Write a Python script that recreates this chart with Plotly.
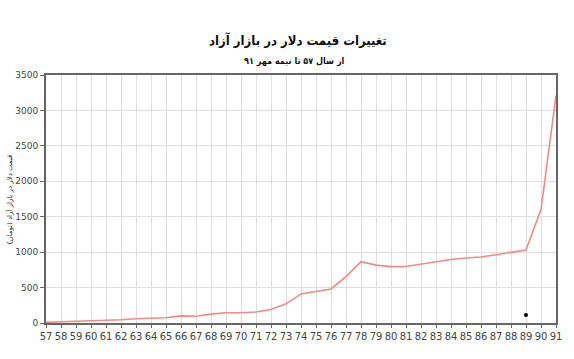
import plotly.graph_objects as go

years = list(range(57, 92))
prices = [10, 15, 20, 25, 30, 45, 60, 65, 75, 100, 95, 125, 145, 145, 155, 190, 270,
          410, 445, 480, 655, 865, 817, 795, 797, 832, 869, 897, 917, 931, 963, 992, 1030,
          1600, 3210]
dot_x = [89]
dot_y = [113]
title_text = "تغییرات قیمت دلار در بازار آزاد"
subtitle_text = "از سال ۵۷ تا نیمه مهر ۹۱"
ylabel_text = "قیمت دلار در بازار آزاد (تومان)"

fig = go.Figure()
fig.add_trace(go.Scatter(x=years, y=prices, mode="lines",
                         line=dict(color="#f08a8a", width=1.6), hoverinfo="skip"))
fig.add_trace(go.Scatter(x=dot_x, y=dot_y, mode="markers",
                         marker=dict(color="black", size=4), hoverinfo="skip"))

fig.update_layout(
    width=574, height=359,
    margin=dict(l=46, r=13, t=75, b=36),
    paper_bgcolor="white", plot_bgcolor="white",
    showlegend=False,
    annotations=[
        dict(text="<b>" + title_text + "</b>", x=300, y=40, showarrow=False,
             font=dict(family="DejaVu Sans Condensed, DejaVu Sans", size=13, color="#111")),
        dict(text="<b>" + subtitle_text + "</b>", x=297, y=62, showarrow=False,
             font=dict(family="DejaVu Sans Condensed, DejaVu Sans", size=9, color="#111")),
        dict(text=ylabel_text, x=9, y=199, textangle=-90, showarrow=False,
             font=dict(family="DejaVu Sans", size=7, color="#222")),
    ],
)
pw = 574 - 46 - 13
ph = 359 - 75 - 36
for a in fig.layout.annotations:
    px, py = a.x, a.y
    a.x = (px - 46) / pw
    a.y = 1 - (py - 75) / ph
    a.xref = "paper"
    a.yref = "paper"
    a.xanchor = "center"
    a.yanchor = "middle"

fig.update_xaxes(range=[57, 91], tickmode="array", tickvals=years,
                 ticktext=[str(y) for y in years],
                 showgrid=True, gridcolor="#dedede", gridwidth=1,
                 showline=True, linecolor="#666", linewidth=2, mirror=True,
                 ticks="outside", ticklen=3, tickcolor="#666",
                 tickfont=dict(family="DejaVu Sans", size=10, color="#444"),
                 zeroline=False)
fig.update_yaxes(range=[0, 3500], tickvals=list(range(0, 3501, 500)),
                 showgrid=True, gridcolor="#dedede", gridwidth=1,
                 showline=True, linecolor="#666", linewidth=2, mirror=True,
                 ticks="outside", ticklen=4, tickcolor="#666",
                 tickfont=dict(family="DejaVu Sans", size=9, color="#444"),
                 zeroline=False)

fig.write_html("out.html")
